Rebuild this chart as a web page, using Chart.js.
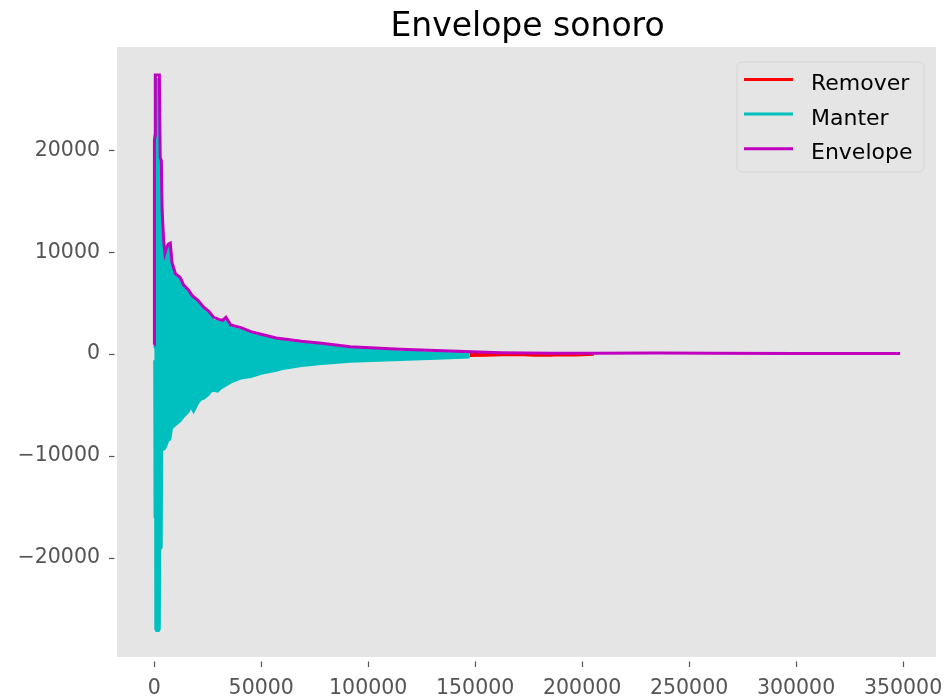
<!DOCTYPE html>
<html><head><meta charset="utf-8">
<script src="https://cdn.jsdelivr.net/npm/chart.js@4.4.1/dist/chart.umd.min.js"></script>
<style>html,body{margin:0;padding:0;background:#fff;}</style>
</head><body>
<canvas id="c" width="947" height="700"></canvas>
<script>
const titleText = 'Envelope sonoro';
const seriesLabels = ['Remover', 'Manter', 'Envelope'];
const xTickValues = [0, 50000, 100000, 150000, 200000, 250000, 300000, 350000];
const yTickValues = [-20000, -10000, 0, 10000, 20000];

// Remover (red) band: upper / lower extent of the signal
const removerX = [147400, 155000, 163000, 170000, 178000, 185000, 190000, 197000, 205500];
const removerTop = [150, 120, 100, 90, 80, 80, 70, 60, 40];
const removerBottom = [-200, -170, -120, -100, -160, -170, -110, -150, -60];

// Manter (cyan) band: upper / lower extent of the signal
const manterX = [0, 150, 450, 500, 1000, 1500, 2100, 2600, 2800, 3500, 3700, 4400, 5000, 5700, 6600, 7500, 8300, 9900, 12200, 13700, 16000, 17000, 18400, 20300, 21700, 23100, 25500, 26400, 27800, 29700, 31100, 33500, 35800, 40500, 45200, 50000, 57000, 59400, 68800, 78200, 91600, 115000, 138300, 147400];
const manterTop = [600, 21000, 21000, 26800, 27000, 27000, 27000, 19500, 19000, 18800, 13800, 11000, 9600, 9900, 10500, 10600, 8800, 7600, 7200, 6500, 6000, 5800, 5400, 5000, 4800, 4300, 3900, 3700, 3300, 3200, 3100, 3300, 2600, 2350, 2000, 1800, 1400, 1350, 1050, 880, 560, 260, 110, 120];
const manterBottom = [-600, -16000, -16000, -27000, -27200, -27200, -27200, -27000, -19200, -19000, -9400, -9400, -9300, -9000, -8500, -8400, -7300, -7000, -6600, -6200, -5700, -5200, -5700, -4900, -4500, -4400, -4000, -3700, -3600, -3700, -3400, -3100, -2800, -2400, -2250, -1950, -1650, -1500, -1180, -980, -750, -590, -420, -330];

// Envelope (magenta)
const envelopeX = [0, 100, 400, 500, 2400, 2800, 3300, 3700, 4400, 5000, 5700, 6600, 7500, 8300, 9900, 12200, 13700, 16000, 17900, 20300, 23100, 25500, 27800, 30200, 32000, 33500, 35800, 40500, 45200, 47600, 57000, 68800, 78200, 91600, 115000, 138300, 161700, 185000, 205000, 235000, 260000, 300000, 348600];
const envelopeY = [900, 21000, 21500, 27400, 27400, 19300, 19000, 14100, 11200, 9900, 10400, 10800, 10900, 9000, 7900, 7500, 6800, 6300, 5700, 5300, 4600, 4200, 3600, 3400, 3300, 3600, 2850, 2600, 2200, 2060, 1570, 1250, 1050, 720, 460, 290, 130, 70, 80, 90, 70, 60, 50];

const colors = { Remover: '#FF0000', Manter: '#00BFBF', Envelope: '#BF00BF' };
const pts = (xs, ys) => xs.map((x, i) => ({ x: x, y: ys[i] }));
const fmt = v => (v < 0 ? '\u2212' + Math.abs(v) : String(v));

const datasets = [
  { label: seriesLabels[0], legend: true, data: pts(removerX, removerTop), borderColor: colors.Remover, backgroundColor: colors.Remover, borderWidth: 2, fill: '+1', order: 2 },
  { label: seriesLabels[0] + '_min', legend: false, data: pts(removerX, removerBottom), borderColor: colors.Remover, backgroundColor: colors.Remover, borderWidth: 2, fill: false, order: 2 },
  { label: seriesLabels[1], legend: true, data: pts(manterX, manterTop), borderColor: colors.Manter, backgroundColor: colors.Manter, borderWidth: 2, fill: '+1', order: 1 },
  { label: seriesLabels[1] + '_min', legend: false, data: pts(manterX, manterBottom), borderColor: colors.Manter, backgroundColor: colors.Manter, borderWidth: 2, fill: false, order: 1 },
  { label: seriesLabels[2], legend: true, data: pts(envelopeX, envelopeY), borderColor: colors.Envelope, backgroundColor: colors.Envelope, borderWidth: 3, fill: false, order: 0 }
];

const FONT = 'DejaVu Sans';

const decor = {
  id: 'decor',
  beforeDraw(chart) {
    const { ctx, chartArea: a } = chart;
    ctx.save();
    ctx.fillStyle = '#ffffff';
    ctx.fillRect(0, 0, chart.width, chart.height);
    ctx.fillStyle = '#E5E5E5';
    ctx.fillRect(a.left, a.top, a.right - a.left, a.bottom - a.top);
    ctx.restore();
  },
  afterDraw(chart) {
    const { ctx, chartArea: a } = chart;
    const xs = chart.scales.x, ys = chart.scales.y;
    ctx.save();
    // tick marks
    ctx.strokeStyle = '#555555';
    ctx.lineWidth = 1.2;
    xTickValues.forEach(v => {
      const px = Math.round(xs.getPixelForValue(v)) + 0.5;
      ctx.beginPath(); ctx.moveTo(px, a.bottom + 4.5); ctx.lineTo(px, a.bottom + 10); ctx.stroke();
    });
    yTickValues.forEach(v => {
      const py = Math.round(ys.getPixelForValue(v)) + 0.5;
      ctx.beginPath(); ctx.moveTo(a.left - 8, py); ctx.lineTo(a.left - 2.5, py); ctx.stroke();
    });
    // title
    ctx.fillStyle = '#000000';
    ctx.font = '33px "' + FONT + '"';
    ctx.textAlign = 'center';
    ctx.textBaseline = 'alphabetic';
    ctx.fillText(titleText, (a.left + a.right) / 2 + 1, 36);
    // legend
    const entries = chart.data.datasets.filter(d => d.legend);
    const bx = 737, by = 62, bw = 187, bh = 110, r = 5;
    ctx.beginPath();
    ctx.moveTo(bx + r, by);
    ctx.arcTo(bx + bw, by, bx + bw, by + bh, r);
    ctx.arcTo(bx + bw, by + bh, bx, by + bh, r);
    ctx.arcTo(bx, by + bh, bx, by, r);
    ctx.arcTo(bx, by, bx + bw, by, r);
    ctx.closePath();
    ctx.fillStyle = 'rgba(229,229,229,0.8)';
    ctx.fill();
    ctx.strokeStyle = '#d6d6d6';
    ctx.lineWidth = 1;
    ctx.stroke();
    ctx.font = '22px "' + FONT + '"';
    ctx.textAlign = 'left';
    entries.forEach((d, i) => {
      const y = 79.5 + i * 34.6;
      ctx.strokeStyle = d.borderColor;
      ctx.lineWidth = 3;
      ctx.beginPath(); ctx.moveTo(744, y); ctx.lineTo(793, y); ctx.stroke();
      ctx.fillStyle = '#000000';
      ctx.fillText(d.label, 811, y + 10.5);
    });
    ctx.restore();
  }
};

new Chart(document.getElementById('c'), {
  type: 'line',
  data: { datasets: datasets },
  options: {
    responsive: false,
    animation: false,
    devicePixelRatio: 1,
    parsing: true,
    elements: { point: { radius: 0, hoverRadius: 0 }, line: { tension: 0 } },
    layout: { padding: { left: 0, right: 11, top: 47, bottom: 0 } },
    plugins: { legend: { display: false }, title: { display: false }, tooltip: { enabled: false }, filler: { propagate: false } },
    events: [],
    scales: {
      x: {
        type: 'linear', min: -17400, max: 365400,
        grid: { display: false, drawTicks: false }, border: { display: false },
        afterBuildTicks: s => { s.ticks = xTickValues.map(v => ({ value: v })); },
        afterFit: s => { s.height = 43; s.paddingLeft = 0; s.paddingRight = 0; },
        ticks: { color: '#555555', font: { family: FONT, size: 20.5 }, padding: 19, maxRotation: 0, autoSkip: false, callback: v => fmt(v) }
      },
      y: {
        type: 'linear', min: -29750, max: 30150,
        grid: { display: false, drawTicks: false }, border: { display: false },
        afterBuildTicks: s => { s.ticks = yTickValues.map(v => ({ value: v })); },
        afterFit: s => { s.width = 117; s.paddingTop = 0; s.paddingBottom = 0; },
        ticks: { color: '#555555', font: { family: FONT, size: 20.5 }, padding: 17, autoSkip: false, callback: v => fmt(v) }
      }
    }
  },
  plugins: [decor]
});
</script>
</body></html>
